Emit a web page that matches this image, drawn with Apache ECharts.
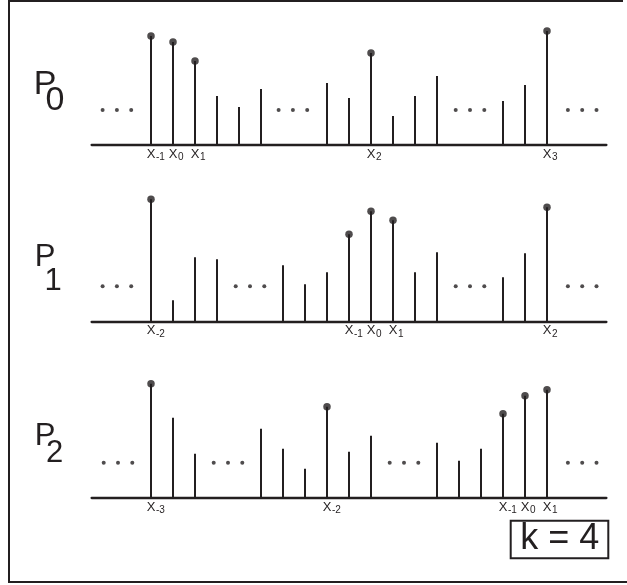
<!DOCTYPE html>
<html>
<head>
<meta charset="utf-8">
<script src="https://cdn.jsdelivr.net/npm/echarts@6/dist/echarts.min.js"></script>
<style>
  html, body { margin: 0; padding: 0; background: #ffffff; }
  #chart { width: 627px; height: 585px; }
</style>
</head>
<body>
<div id="chart"></div>
<script>
// Sample positions (in sample-slot units) and heights for each population row
const slots0 = [0, 1, 2, 3, 4, 5, 8, 9, 10, 11, 12, 13, 16, 17, 18];
const heights0 = [109, 103, 84, 49, 38, 56, 62, 47, 92, 29, 49, 69, 44, 60, 114];
const marked0 = [0, 1, 2, 10, 18];
const subs0 = ['-1', '0', '1', '2', '3'];
const ellipsis0 = [-1.55, 6.45, 14.5, 19.6];

const slots1 = [0, 1, 2, 3, 6, 7, 8, 9, 10, 11, 12, 13, 16, 17, 18];
const heights1 = [122, 21, 64, 62, 56, 37, 49, 87, 110, 101, 49, 69, 44, 68, 114];
const marked1 = [0, 9, 10, 11, 18];
const subs1 = ['-2', '-1', '0', '1', '2'];
const ellipsis1 = [-1.55, 4.5, 14.5, 19.6];

const slots2 = [0, 1, 2, 5, 6, 7, 8, 9, 10, 13, 14, 15, 16, 17, 18];
const heights2 = [114, 80, 44, 69, 49, 29, 91, 46, 62, 55, 37, 49, 84, 102, 108];
const marked2 = [0, 8, 16, 17, 18];
const subs2 = ['-3', '-2', '-1', '0', '1'];
const ellipsis2 = [-1.5, 3.5, 11.5, 19.6];

const rowNames = ['P', 'P', 'P'];
const rowSubs = ['0', '1', '2'];
const kLabel = 'k = 4';

const rows = [
  { slots: slots0, heights: heights0, marked: marked0, subs: subs0, ellipsis: ellipsis0 },
  { slots: slots1, heights: heights1, marked: marked1, subs: subs1, ellipsis: ellipsis1 },
  { slots: slots2, heights: heights2, marked: marked2, subs: subs2, ellipsis: ellipsis2 }
];

const INK = '#231f20';
const FONT = '"Liberation Sans", Arial, sans-serif';
const baselines = [145, 321.3, 497.7];
const gridH = 130;
const ellipsisHeight = 35;
const ellipsisStep = 0.65;

const grids = [], xAxes = [], yAxes = [], series = [];

rows.forEach((row, i) => {
  grids.push({ left: 91.6, width: 514.8, top: baselines[i] - gridH, height: gridH });
  xAxes.push({
    type: 'value', gridIndex: i, min: -2.7, max: 20.7,
    axisLine: { show: true, lineStyle: { color: INK, width: 2.3 } },
    axisTick: { show: false }, axisLabel: { show: false }, splitLine: { show: false }
  });
  yAxes.push({
    type: 'value', gridIndex: i, min: 0, max: gridH, show: false,
    splitLine: { show: false }
  });

  const pairs = row.slots.map((s, j) => [s, row.heights[j]]);

  // stems
  series.push({
    type: 'custom', xAxisIndex: i, yAxisIndex: i, clip: false, silent: true,
    data: pairs,
    renderItem: function (params, api) {
      const top = api.coord([api.value(0), api.value(1)]);
      const base = api.coord([api.value(0), 0]);
      return {
        type: 'line',
        shape: { x1: base[0], y1: base[1], x2: top[0], y2: top[1] },
        style: { stroke: INK, lineWidth: 2 }
      };
    }
  });

  // filled heads on the highlighted samples
  series.push({
    type: 'scatter', xAxisIndex: i, yAxisIndex: i, clip: false, silent: true,
    symbol: 'circle', symbolSize: 7.5,
    itemStyle: { color: INK },
    data: pairs.filter(p => row.marked.indexOf(p[0]) >= 0)
  });

  // "..." gaps
  const dots = [];
  row.ellipsis.forEach(c => {
    dots.push([c - ellipsisStep, ellipsisHeight], [c, ellipsisHeight], [c + ellipsisStep, ellipsisHeight]);
  });
  series.push({
    type: 'scatter', xAxisIndex: i, yAxisIndex: i, clip: false, silent: true,
    symbol: 'circle', symbolSize: 4,
    itemStyle: { color: INK },
    data: dots
  });

  // X labels with subscripts under the highlighted samples
  series.push({
    type: 'custom', xAxisIndex: i, yAxisIndex: i, clip: false, silent: true,
    data: row.marked.map((s, j) => [s, 0, row.subs[j]]),
    renderItem: function (params, api) {
      const p = api.coord([api.value(0), 0]);
      const sub = row.subs[params.dataIndex];
      return {
        type: 'group',
        children: [
          {
            type: 'text', x: p[0], y: p[1] + 9.5,
            style: { text: 'X', fontFamily: FONT, fontSize: 13, fill: INK, align: 'center', verticalAlign: 'middle' }
          },
          {
            type: 'text', x: p[0] + 5, y: p[1] + 12.5,
            style: { text: sub, fontFamily: FONT, fontSize: 10, fill: INK, align: 'left', verticalAlign: 'middle' }
          }
        ]
      };
    }
  });
});

// row titles P0, P1, P2
const titleSpec = [
  { pY: 84.5, sY: 100.8, sX: 55, size: 34 },
  { pY: 257.5, sY: 281, sX: 53, size: 31 },
  { pY: 436, sY: 453.5, sX: 54.5, size: 31 }
];
const graphics = [];
titleSpec.forEach((t, i) => {
  graphics.push({
    type: 'text', x: 45, y: t.pY, silent: true,
    style: { text: rowNames[i], fontFamily: FONT, fontSize: t.size, fill: INK, align: 'center', verticalAlign: 'middle' }
  });
  graphics.push({
    type: 'text', x: t.sX, y: t.sY, silent: true,
    style: { text: rowSubs[i], fontFamily: FONT, fontSize: t.size, fill: INK, align: 'center', verticalAlign: 'middle' }
  });
});

// frame
graphics.push(
  { type: 'line', silent: true, shape: { x1: 9, y1: 1, x2: 623, y2: 1 }, style: { stroke: INK, lineWidth: 2 } },
  { type: 'line', silent: true, shape: { x1: 9, y1: 0, x2: 9, y2: 583 }, style: { stroke: INK, lineWidth: 2 } },
  { type: 'line', silent: true, shape: { x1: 8, y1: 582, x2: 627, y2: 582 }, style: { stroke: INK, lineWidth: 2 } }
);

// k = 4 box
graphics.push(
  { type: 'rect', silent: true, shape: { x: 510.7, y: 520.7, width: 97.6, height: 37.6 },
    style: { fill: '#ffffff', stroke: INK, lineWidth: 2 } },
  { type: 'text', x: 559.7, y: 539.5, silent: true,
    style: { text: kLabel, fontFamily: FONT, fontSize: 36, fill: INK, align: 'center', verticalAlign: 'middle' } }
);

const chart = echarts.init(document.getElementById('chart'), null, { renderer: 'canvas' });
chart.setOption({
  animation: false,
  backgroundColor: '#ffffff',
  grid: grids,
  xAxis: xAxes,
  yAxis: yAxes,
  series: series,
  graphic: graphics
});
</script>
</body>
</html>
